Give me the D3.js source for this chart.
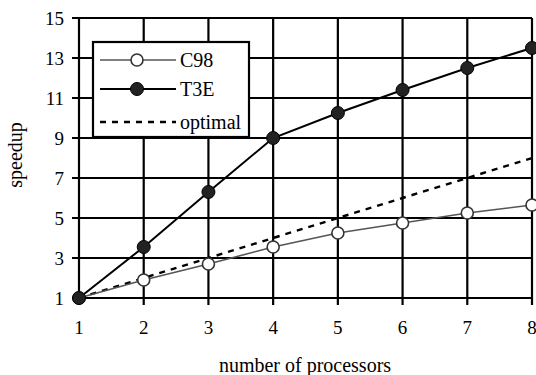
<!DOCTYPE html>
<html lang="en">
<head>
<meta charset="UTF-8">
<script src="https://d3js.org/d3.v7.min.js"></script>
<style>
  body { margin: 0; background: #fff; }
</style>
</head>
<body>
<div id="chart"></div>
<script>
// data
var processors = [1, 2, 3, 4, 5, 6, 7, 8];
var c98 = [1, 1.9, 2.7, 3.55, 4.25, 4.75, 5.25, 5.65];
var t3e = [1, 3.55, 6.3, 9, 10.25, 11.4, 12.5, 13.5];
var optimal = [1, 2, 3, 4, 5, 6, 7, 8];
var yTicks = [1, 3, 5, 7, 9, 11, 13, 15];

var FONT = "'Liberation Serif', 'DejaVu Serif', 'Times New Roman', serif";

var W = 536, H = 375;
var margin = { top: 18, right: 4, bottom: 77, left: 79 };
var width = W - margin.left - margin.right,
    height = H - margin.top - margin.bottom;

var svg = d3.select("#chart").append("svg")
    .attr("width", W).attr("height", H)
    .attr("font-family", FONT);
var g = svg.append("g")
    .attr("transform", "translate(" + margin.left + "," + margin.top + ")");

var x = d3.scaleLinear().domain([1, 8]).range([0, width]);
var y = d3.scaleLinear().domain([1, 15]).range([height, 0]);

// grid (lines stick out a little past the axes as ticks)
g.selectAll(".vgrid").data(processors).enter().append("line")
    .attr("x1", function (d) { return x(d); }).attr("x2", function (d) { return x(d); })
    .attr("y1", 0).attr("y2", height + 7)
    .attr("stroke", "#000").attr("stroke-width", 2.2);
g.selectAll(".hgrid").data(yTicks).enter().append("line")
    .attr("x1", -7).attr("x2", width)
    .attr("y1", function (d) { return y(d); }).attr("y2", function (d) { return y(d); })
    .attr("stroke", "#000").attr("stroke-width", 2.2);

// tick labels
g.selectAll(".xl").data(processors).enter().append("text")
    .attr("x", function (d) { return x(d); }).attr("y", height + 36)
    .attr("text-anchor", "middle").style("font-size", "19px")
    .text(function (d) { return d; });
g.selectAll(".yl").data(yTicks).enter().append("text")
    .attr("x", -15).attr("y", function (d) { return y(d) + 7; })
    .attr("text-anchor", "end").style("font-size", "19px")
    .text(function (d) { return d; });

// axis titles
svg.append("text").attr("x", 305).attr("y", 372)
    .attr("text-anchor", "middle").style("font-size", "20px")
    .text("number of processors");
svg.append("text")
    .attr("transform", "translate(22,155) rotate(-90)")
    .attr("text-anchor", "middle").style("font-size", "20px")
    .text("speedup");

var line = function (vals) {
    return d3.line()
        .x(function (d, i) { return x(processors[i]); })
        .y(function (d) { return y(d); })(vals);
};

g.append("path").attr("d", line(optimal)).attr("fill", "none")
    .attr("stroke", "#000").attr("stroke-width", 2.4).attr("stroke-dasharray", "6,6");
g.append("path").attr("d", line(c98)).attr("fill", "none")
    .attr("stroke", "#555").attr("stroke-width", 1.6);
g.append("path").attr("d", line(t3e)).attr("fill", "none")
    .attr("stroke", "#000").attr("stroke-width", 2);

g.selectAll(".c98").data(c98).enter().append("circle")
    .attr("cx", function (d, i) { return x(processors[i]); })
    .attr("cy", function (d) { return y(d); })
    .attr("r", 6).attr("fill", "#fff").attr("stroke", "#333").attr("stroke-width", 1.6);
g.selectAll(".t3e").data(t3e).enter().append("circle")
    .attr("cx", function (d, i) { return x(processors[i]); })
    .attr("cy", function (d) { return y(d); })
    .attr("r", 6.5).attr("fill", "#222").attr("stroke", "#000").attr("stroke-width", 1);

// legend
var lg = svg.append("g");
lg.append("rect").attr("x", 93).attr("y", 42).attr("width", 156).attr("height", 95)
    .attr("fill", "#fff").attr("stroke", "#000").attr("stroke-width", 2.2);
var items = [
    { name: "C98", cy: 60 },
    { name: "T3E", cy: 89 },
    { name: "optimal", cy: 122 }
];
items.forEach(function (it) {
    var ln = lg.append("line").attr("x1", 100).attr("x2", 176)
        .attr("y1", it.cy).attr("y2", it.cy);
    if (it.name === "C98") {
        ln.attr("stroke", "#555").attr("stroke-width", 1.6);
        lg.append("circle").attr("cx", 137).attr("cy", it.cy).attr("r", 6)
            .attr("fill", "#fff").attr("stroke", "#333").attr("stroke-width", 1.6);
    } else if (it.name === "T3E") {
        ln.attr("stroke", "#000").attr("stroke-width", 2);
        lg.append("circle").attr("cx", 137).attr("cy", it.cy).attr("r", 6.5)
            .attr("fill", "#222").attr("stroke", "#000").attr("stroke-width", 1);
    } else {
        ln.attr("stroke", "#000").attr("stroke-width", 2.4).attr("stroke-dasharray", "6,6");
    }
    lg.append("text").attr("x", 180).attr("y", it.cy + 7)
        .style("font-size", "20px").text(it.name);
});
</script>
</body>
</html>
